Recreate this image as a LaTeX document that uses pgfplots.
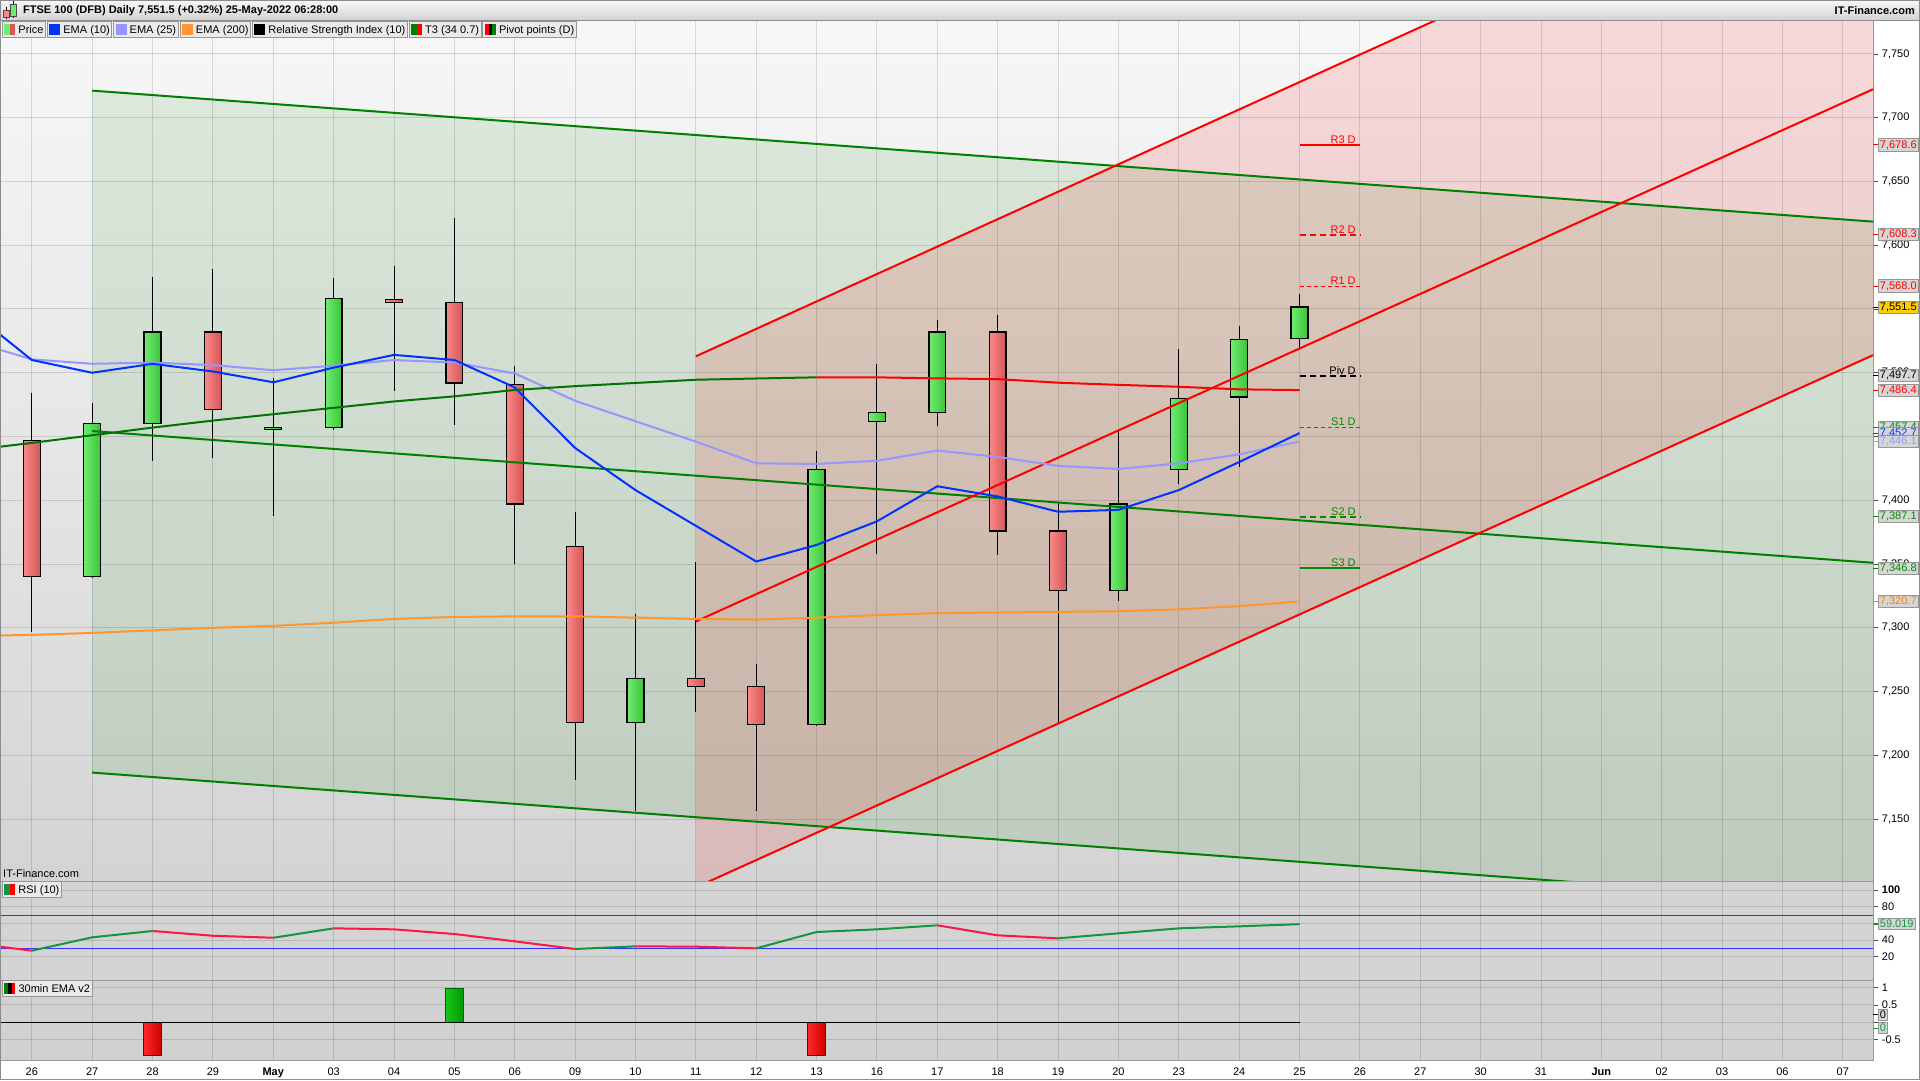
\documentclass[border=0pt]{standalone}
\usepackage{fontspec}
\setmainfont{Liberation Sans}
\usepackage{pgfplots}
\pgfplotsset{compat=1.18}

\definecolor{gL}{RGB}{112,236,112}
\definecolor{gD}{RGB}{58,196,58}
\definecolor{rL}{RGB}{250,136,136}
\definecolor{rD}{RGB}{212,86,86}
\definecolor{ema10}{RGB}{0,51,255}
\definecolor{ema25}{RGB}{150,150,255}
\definecolor{ema200}{RGB}{255,150,50}
\definecolor{chg}{RGB}{0,128,0}
\definecolor{chr}{RGB}{255,0,0}
\definecolor{rsir}{RGB}{255,20,70}
\definecolor{rsig}{RGB}{20,150,60}
\definecolor{boxf}{RGB}{214,214,214}
\definecolor{boxd}{RGB}{150,150,150}
\definecolor{pivg}{RGB}{0,140,0}
\definecolor{legf}{RGB}{234,234,234}
\definecolor{vorange}{RGB}{240,130,20}
\definecolor{vyellow}{RGB}{255,204,0}

\newcommand\gcandle[5]{%
  \addplot[black, line width=1pt] coordinates {(#1,#3) (#1,#4)};
  \pgfmathsetmacro\xl{#1-0.14}\pgfmathsetmacro\xr{#1+0.14}%
  \addplot[draw=black, line width=1.3pt, left color=gL, right color=gD] coordinates {(\xl,#2) (\xr,#2) (\xr,#5) (\xl,#5)} -- cycle;
}
\newcommand\rcandle[5]{%
  \addplot[black, line width=1pt] coordinates {(#1,#3) (#1,#4)};
  \pgfmathsetmacro\xl{#1-0.14}\pgfmathsetmacro\xr{#1+0.14}%
  \addplot[draw=black, line width=1.3pt, left color=rL, right color=rD] coordinates {(\xl,#2) (\xr,#2) (\xr,#5) (\xl,#5)} -- cycle;
}
\newcommand\vlab[4]{%
  \draw[#2, line width=1pt] (#1) -- ++(5,0) node[anchor=west, draw=boxd, fill=#4, text=#2, inner xsep=1.5pt, inner ysep=1.6pt, line width=0.8pt] {#3};}
\newcommand\swa[1]{\textcolor{#1}{\rule[-1.5pt]{11pt}{11pt}}}
\newcommand\swb[2]{\textcolor{#1}{\rule[-1.5pt]{5.5pt}{11pt}}\textcolor{#2}{\rule[-1.5pt]{5.5pt}{11pt}}}
\newcommand\swc[3]{\textcolor{#1}{\rule[-1.5pt]{3.7pt}{11pt}}\textcolor{#2}{\rule[-1.5pt]{3.7pt}{11pt}}\textcolor{#3}{\rule[-1.5pt]{3.7pt}{11pt}}}

\pgfplotsset{
  panel/.style={
    scale only axis, width=1873pt,
    xmin=-0.527, xmax=30.5,
    clip mode=individual,
    xtick={0,...,30}, xticklabels={},
    ytick pos=right, yticklabel pos=right,
    tick align=outside, major tick length=5pt,
    xtick style={draw=none},
    ytick style={black!70, line width=0.8pt},
    xmajorgrids, ymajorgrids,
    grid style={black, opacity=0.13, line width=1pt},
    axis line style={black!40, line width=1pt},
    /pgf/number format/1000 sep={,},
    /pgf/number format/assume math mode=true,
  }
}

\begin{document}
\fontsize{11}{13}\selectfont
\begin{tikzpicture}[x=1pt,y=1pt]
\useasboundingbox (0,0) rectangle (1920,1080);
\fill[white] (0,0) rectangle (1920,1080);

% ================= MAIN PANEL =================
\begin{axis}[panel,
  at={(0pt,199pt)}, anchor=south west, height=860pt,
  ymin=7101.5, ymax=7775.8,
  axis background/.style={top color=white!97!black, bottom color=white!83!black},
  ytick={7150,7200,...,7750},
]
% channel fills
\addplot[draw=none, fill=chg, fill opacity=0.10] coordinates {(1,7721.2) (30.5,7618.5) (30.5,7083.3) (1,7186.5)} -- cycle;
\addplot[draw=none, fill=chr, fill opacity=0.12] coordinates {(11,7512.9) (30.5,7932.2) (30.5,7513.8) (11,7096.5)} -- cycle;

% candles
\rcandle{0}{7447}{7484}{7297}{7340}
\gcandle{1}{7340}{7476}{7339}{7460}
\gcandle{2}{7460}{7575}{7431}{7532}
\rcandle{3}{7532}{7581}{7433}{7471}
\gcandle{4}{7455.4}{7496}{7388}{7457.2}
\gcandle{5}{7457}{7574}{7455}{7558}
\rcandle{6}{7557.6}{7584}{7486}{7555}
\rcandle{7}{7555}{7621}{7459}{7492}
\rcandle{8}{7491}{7505.5}{7350}{7397}
\rcandle{9}{7364}{7391}{7181}{7226}
\gcandle{10}{7226}{7311}{7156}{7260}
\rcandle{11}{7260}{7352}{7234}{7254}
\rcandle{12}{7254}{7272}{7156}{7224}
\gcandle{13}{7224}{7439}{7223}{7424}
\gcandle{14}{7462}{7507}{7358}{7469}
\gcandle{15}{7469}{7541}{7458}{7532}
\rcandle{16}{7532}{7545}{7357}{7376}
\rcandle{17}{7376}{7398}{7225}{7329}
\gcandle{18}{7329}{7454}{7321}{7397}
\gcandle{19}{7424}{7519}{7413}{7480}
\gcandle{20}{7481}{7537}{7426}{7526}
\gcandle{21}{7527}{7562}{7518}{7551.5}

% channel lines
\addplot[chg, line width=2pt] coordinates {(1,7721.2) (30.5,7618.5)};
\addplot[chg, line width=2pt] coordinates {(1,7454.3) (30.5,7351.0)};
\addplot[chg, line width=2pt] coordinates {(1,7186.5) (30.5,7083.3)};
\addplot[chr, line width=2pt] coordinates {(11,7512.9) (30.5,7932.2)};
\addplot[chr, line width=2pt] coordinates {(11,7305.0) (30.5,7722.3)};
\addplot[chr, line width=2pt] coordinates {(11,7096.5) (30.5,7513.8)};

% EMA 200
\addplot[ema200, line width=2pt] coordinates {(-0.527,7294) (0,7294.5) (1,7296) (2,7298) (3,7300) (4,7301.5) (5,7304) (6,7307) (7,7308.5) (8,7309) (9,7309) (10,7308) (11,7307) (12,7306.5) (13,7308) (14,7310) (15,7311.5) (16,7312) (17,7312.5) (18,7313) (19,7314.5) (20,7317) (21,7320.7)};
% EMA 25
\addplot[ema25, line width=2pt] coordinates {(-0.527,7518) (0,7510.5) (1,7507) (2,7508) (3,7506) (4,7502) (5,7505.5) (6,7510) (7,7508) (8,7499.5) (9,7478) (10,7462) (11,7446) (12,7429) (13,7428.5) (14,7431) (15,7439) (16,7434) (17,7427) (18,7424.5) (19,7429) (20,7436) (21,7446.1)};
% EMA 10
\addplot[ema10, line width=2pt] coordinates {(-0.527,7530) (0,7510) (1,7500) (2,7507) (3,7501) (4,7492.5) (5,7504) (6,7514) (7,7510) (8,7488.5) (9,7441) (10,7408) (11,7380) (12,7352) (13,7365) (14,7383.5) (15,7411) (16,7403) (17,7391) (18,7392.5) (19,7408) (20,7430) (21,7452.7)};
% T3
\addplot[chg!90!black, line width=2pt] coordinates {(-0.527,7442) (0,7445) (1,7451) (2,7457) (3,7462.5) (4,7467.5) (5,7472.5) (6,7477.5) (7,7481.5) (8,7486.5) (9,7489.5) (10,7492) (11,7494.5) (12,7495.5) (13,7496.4)};
\addplot[chr, line width=2pt] coordinates {(13,7496.4) (14,7496.4) (15,7495.6) (16,7495) (17,7492.2) (18,7490.5) (19,7489) (20,7487) (21,7486.4)};

% pivot points
\addplot[chr, line width=2pt] coordinates {(21,7678.6) (22,7678.6)};
\addplot[chr, line width=2pt, dash pattern=on 6pt off 4pt] coordinates {(21,7608.3) (22,7608.3)};
\addplot[chr, line width=1pt, dash pattern=on 4pt off 3pt] coordinates {(21,7568.0) (22,7568.0)};
\addplot[black, line width=2pt, dash pattern=on 6pt off 4pt] coordinates {(21,7497.7) (22,7497.7)};
\addplot[pivg, line width=1pt, dash pattern=on 4pt off 3pt] coordinates {(21,7457.4) (22,7457.4)};
\addplot[pivg, line width=2pt, dash pattern=on 6pt off 4pt] coordinates {(21,7387.1) (22,7387.1)};
\addplot[pivg, line width=2pt] coordinates {(21,7346.8) (22,7346.8)};
\begin{scope}[every node/.style={anchor=south east, inner sep=1pt, xshift=-3pt}]
\node[text=chr] at (axis cs:22,7678.6) {R3 D};
\node[text=chr] at (axis cs:22,7608.3) {R2 D};
\node[text=chr] at (axis cs:22,7568.0) {R1 D};
\node[text=black] at (axis cs:22,7497.7) {Piv D};
\node[text=pivg] at (axis cs:22,7457.4) {S1 D};
\node[text=pivg] at (axis cs:22,7387.1) {S2 D};
\node[text=pivg] at (axis cs:22,7346.8) {S3 D};
\end{scope}

\coordinate (vA) at (axis cs:30.5,7678.6);
\coordinate (vB) at (axis cs:30.5,7608.3);
\coordinate (vC) at (axis cs:30.5,7568.0);
\coordinate (vD) at (axis cs:30.5,7551.5);
\coordinate (vE) at (axis cs:30.5,7497.7);
\coordinate (vF) at (axis cs:30.5,7486.4);
\coordinate (vG) at (axis cs:30.5,7457.4);
\coordinate (vH) at (axis cs:30.5,7452.7);
\coordinate (vI) at (axis cs:30.5,7446.1);
\coordinate (vJ) at (axis cs:30.5,7387.1);
\coordinate (vK) at (axis cs:30.5,7346.8);
\coordinate (vL) at (axis cs:30.5,7320.7);
\end{axis}

% ================= RSI PANEL =================
\begin{axis}[panel,
  at={(0pt,100pt)}, anchor=south west, height=99pt,
  ymin=-8, ymax=110.8,
  axis background/.style={fill=white!83!black},
  ytick={20,40,60,80,100}, yticklabels={20,40,,80,\textbf{100}},
]
\addplot[blue!80!white, line width=1pt] coordinates {(-0.527,70) (30.5,70)};
\addplot[blue!80!white, line width=1pt] coordinates {(-0.527,30) (30.5,30)};
\addplot[rsir, line width=2pt] coordinates {(-0.527,32) (0,27.2)};
\addplot[rsig, line width=2pt] coordinates {(0,27.2) (1,43.2) (2,50.8)};
\addplot[rsir, line width=2pt] coordinates {(2,50.8) (3,45.1) (4,42.7)};
\addplot[rsig, line width=2pt] coordinates {(4,42.7) (5,54)};
\addplot[rsir, line width=2pt] coordinates {(5,54) (6,52.8) (7,47.2) (8,38.4) (9,29.2)};
\addplot[rsig, line width=2pt] coordinates {(9,29.2) (10,32.4)};
\addplot[rsir, line width=2pt] coordinates {(10,32.4) (11,32) (12,30)};
\addplot[rsig, line width=2pt] coordinates {(12,30) (13,49.6) (14,52.8) (15,57.6)};
\addplot[rsir, line width=2pt] coordinates {(15,57.6) (16,45.6) (17,42)};
\addplot[rsig, line width=2pt] coordinates {(17,42) (18,48) (19,54) (20,56.4) (21,59.0)};
\coordinate (vR) at (axis cs:30.5,59.0);
\end{axis}

% ================= 30min EMA PANEL =================
\begin{axis}[panel,
  at={(0pt,20pt)}, anchor=south west, height=80pt,
  ymin=-1.09, ymax=1.22,
  axis background/.style={fill=white!82!black},
  ytick={-0.5,0,0.5,1}, yticklabels={-0.5,,0.5,1},
  xticklabels={26,27,28,29,\textbf{May},03,04,05,06,09,10,11,12,13,16,17,18,19,20,23,24,25,26,27,30,31,\textbf{Jun},02,03,06,07},
  xticklabel style={yshift=1pt},
]
\addplot[draw=green!40!black, line width=1pt, left color=green!75!black!90!white, right color=green!60!black] coordinates {(6.85,0) (7.15,0) (7.15,0.98) (6.85,0.98)} -- cycle;
\addplot[draw=red!50!black, line width=1pt, left color=red!85!white, right color=red!80!black] coordinates {(1.85,0) (2.15,0) (2.15,-0.96) (1.85,-0.96)} -- cycle;
\addplot[draw=red!50!black, line width=1pt, left color=red!85!white, right color=red!80!black] coordinates {(12.85,0) (13.15,0) (13.15,-0.96) (12.85,-0.96)} -- cycle;
\addplot[black, line width=1.5pt] coordinates {(-0.527,0) (21,0)};
\coordinate (vZa) at (axis cs:30.5,0.21);
\coordinate (vZb) at (axis cs:30.5,-0.17);
\end{axis}

% ================= value boxes =================
\vlab{vA}{chr}{7,678.6}{boxf}
\vlab{vB}{chr}{7,608.3}{boxf}
\vlab{vC}{chr}{7,568.0}{boxf}
\vlab{vD}{black}{7,551.5}{vyellow}
\vlab{vE}{black}{7,497.7}{boxf}
\vlab{vF}{chr}{7,486.4}{boxf}
\vlab{vG}{pivg}{7,457.4}{boxf}
\vlab{vH}{ema10}{7,452.7}{boxf}
\vlab{vI}{ema25}{7,446.1}{boxf}
\vlab{vJ}{pivg}{7,387.1}{boxf}
\vlab{vK}{pivg}{7,346.8}{boxf}
\vlab{vL}{vorange}{7,320.7}{boxf}
\vlab{vR}{rsig}{59.019}{boxf}
\vlab{vZa}{black}{0}{boxf}
\vlab{vZb}{rsig}{0}{boxf}

% ================= title bar =================
\shade[top color=white!97!black, bottom color=white!82!black] (0,1059) rectangle (1920,1080);
\draw[black!45, line width=1pt] (0,1059) -- (1920,1059);
\node[anchor=west, font=\bfseries, inner sep=0pt] at (23,1069.5) {FTSE 100 (DFB) Daily 7,551.5 (+0.32\%) 25-May-2022 06:28:00};
\node[anchor=east, font=\bfseries, inner sep=0pt] at (1915,1069.5) {IT-Finance.com};
% icon
\draw[black, line width=0.8pt] (6,1061) -- (6,1073);
\filldraw[fill=rL, draw=black!70, line width=0.6pt] (3,1063) rectangle (9,1070);
\draw[black, line width=0.8pt] (13.5,1062) -- (13.5,1079);
\filldraw[fill=gL, draw=black!70, line width=0.6pt] (10.5,1064) rectangle (16.5,1076);

% ================= legend bar =================
\begin{scope}[every node/.style={draw=boxd, fill=legf, inner xsep=2pt, inner ysep=0pt, minimum height=16pt, anchor=north west, line width=0.8pt}]
\node (l1) at (2,1059) {\swb{gL}{rD} Price};
\node (l2) at ([xshift=1pt]l1.north east) {\swa{ema10} EMA (10)};
\node (l3) at ([xshift=1pt]l2.north east) {\swa{ema25} EMA (25)};
\node (l4) at ([xshift=1pt]l3.north east) {\swa{ema200} EMA (200)};
\node (l5) at ([xshift=1pt]l4.north east) {\swa{black} Relative Strength Index (10)};
\node (l6) at ([xshift=1pt]l5.north east) {\swb{chg}{chr} T3 (34 0.7)};
\node (l7) at ([xshift=1pt]l6.north east) {\swc{chr}{black}{chg} Pivot points (D)};
\node at (2,199) [anchor=north west] {\swb{rsig}{chr} RSI (10)};
\node at (2,100) [anchor=north west] {\swc{chg}{black}{chr} 30min EMA v2};
\end{scope}
\node[anchor=south west, inner sep=0pt] at (3,202) {IT-Finance.com};

% outer frame
\draw[black!45, line width=1pt] (0.5,0.5) rectangle (1919.5,1079.5);
\end{tikzpicture}
\end{document}
